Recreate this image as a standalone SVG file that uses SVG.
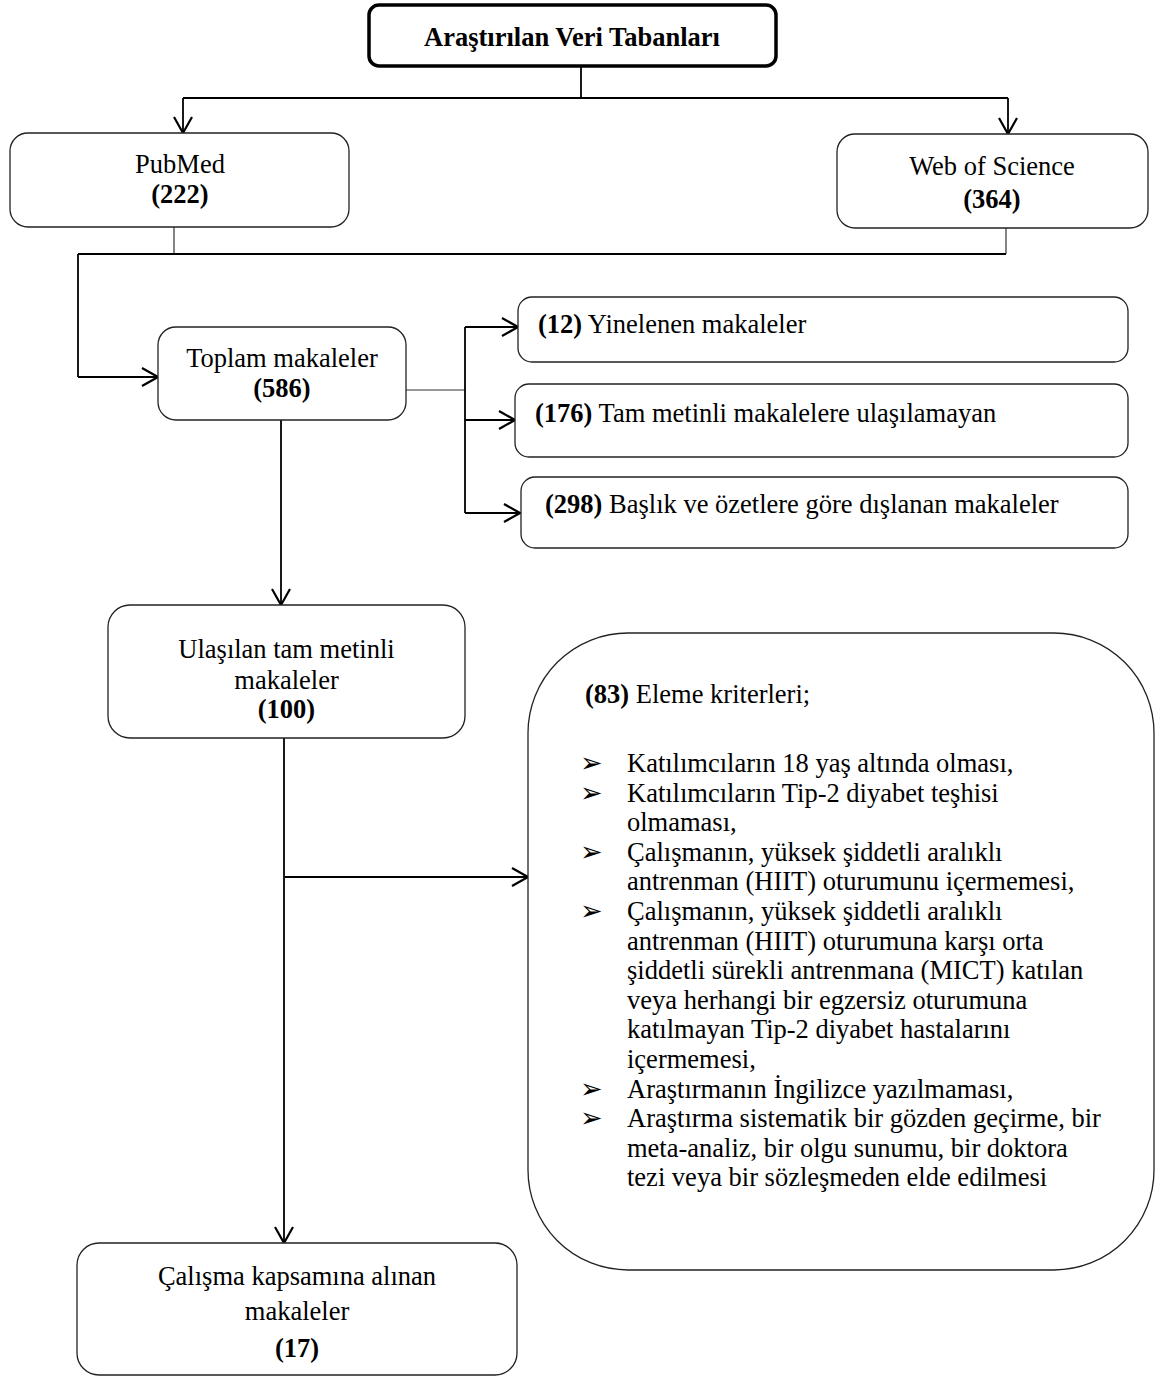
<svg xmlns="http://www.w3.org/2000/svg" width="1156" height="1378" viewBox="0 0 1156 1378">
<defs>
<style>
text{font-family:"Liberation Serif","Times New Roman",serif;font-size:26.5px;fill:#000}
.c{text-anchor:middle}
.b{font-weight:bold}
.box{fill:#fff;stroke:#222;stroke-width:1.3}
.title{fill:#fff;stroke:#000;stroke-width:3.5}
.ln{fill:none;stroke:#000;stroke-width:1.8}
.thin{fill:none;stroke:#333;stroke-width:1.2}
.ar{fill:none;stroke:#000;stroke-width:1.8;marker-end:url(#arr)}
.bul{font-family:"DejaVu Sans",sans-serif;font-size:27px}
</style>
<marker id="arr" markerUnits="userSpaceOnUse" viewBox="0 0 18 20" refX="17" refY="10" markerWidth="18" markerHeight="20" orient="auto">
<path d="M1,1 L17,10 L1,19" fill="none" stroke="#000" stroke-width="2.2"/>
</marker>
</defs>
<rect width="1156" height="1378" fill="#fff"/>

<g id="connectors">
<path class="ln" d="M581,66 V98"/>
<path class="ln" d="M183,98 H1008"/>
<path class="ar" d="M183,98 V133"/>
<path class="ar" d="M1008,98 V134"/>
<path class="thin" d="M174,227 V254"/>
<path class="thin" d="M1006,228 V254"/>
<path class="ln" d="M78,254 H1006"/>
<path class="ln" d="M78,254 V377"/>
<path class="ar" d="M78,377 H158"/>
<path class="thin" d="M406,390 H465"/>
<path class="ln" d="M465,327 V513"/>
<path class="ar" d="M465,327 H518"/>
<path class="ar" d="M465,420 H515"/>
<path class="ar" d="M465,513 H520"/>
<path class="ar" d="M281,420 V605"/>
<path class="ar" d="M284,738 V1243"/>
<path class="ar" d="M285,877 H528"/>
</g>

<g id="n-title">
<rect class="title" x="369" y="5" width="407" height="61" rx="10"/>
<text class="c b" x="572" y="46" font-size="26">Araştırılan Veri Tabanları</text>
</g>

<g id="n-pubmed">
<rect class="box" x="10" y="133" width="339" height="94" rx="18"/>
<text class="c" x="180" y="173">PubMed</text>
<text class="c b" x="180" y="203">(222)</text>
</g>

<g id="n-wos">
<rect class="box" x="837" y="134" width="311" height="94" rx="18"/>
<text class="c" x="992" y="175">Web of Science</text>
<text class="c b" x="992" y="208">(364)</text>
</g>

<g id="n-toplam">
<rect class="box" x="158" y="327" width="248" height="93" rx="18"/>
<text class="c" x="282" y="367">Toplam makaleler</text>
<text class="c b" x="282" y="397">(586)</text>
</g>

<g id="n-yinelenen">
<rect class="box" x="518" y="297" width="610" height="65" rx="14"/>
<text x="538" y="333"><tspan class="b">(12)</tspan> Yinelenen makaleler</text>
</g>

<g id="n-tammetin">
<rect class="box" x="515" y="384" width="613" height="73" rx="14"/>
<text x="535" y="422"><tspan class="b">(176)</tspan> Tam metinli makalelere ulaşılamayan</text>
</g>

<g id="n-baslik">
<rect class="box" x="521" y="477" width="607" height="71" rx="14"/>
<text x="545" y="513"><tspan class="b">(298)</tspan> Başlık ve özetlere göre dışlanan makaleler</text>
</g>

<g id="n-ulasilan">
<rect class="box" x="108" y="605" width="357" height="133" rx="22"/>
<text class="c" x="286.5" y="658">Ulaşılan tam metinli</text>
<text class="c" x="286.5" y="689">makaleler</text>
<text class="c b" x="286.5" y="718">(100)</text>
</g>

<g id="n-eleme">
<rect class="box" x="528" y="633" width="626" height="637" rx="100"/>
<text x="585" y="703"><tspan class="b">(83)</tspan> Eleme kriterleri;</text>
<text class="bul" x="580" y="772">➢</text>
<text x="627" y="772">Katılımcıların 18 yaş altında olması,</text>
<text class="bul" x="580" y="801.6">➢</text>
<text x="627" y="801.6">Katılımcıların Tip-2 diyabet teşhisi</text>
<text x="627" y="831.2">olmaması,</text>
<text class="bul" x="580" y="860.8">➢</text>
<text x="627" y="860.8">Çalışmanın, yüksek şiddetli aralıklı</text>
<text x="627" y="890.4">antrenman (HIIT) oturumunu içermemesi,</text>
<text class="bul" x="580" y="920">➢</text>
<text x="627" y="920">Çalışmanın, yüksek şiddetli aralıklı</text>
<text x="627" y="949.6">antrenman (HIIT) oturumuna karşı orta</text>
<text x="627" y="979.2">şiddetli sürekli antrenmana (MICT) katılan</text>
<text x="627" y="1008.8">veya herhangi bir egzersiz oturumuna</text>
<text x="627" y="1038.4">katılmayan Tip-2 diyabet hastalarını</text>
<text x="627" y="1068">içermemesi,</text>
<text class="bul" x="580" y="1097.6">➢</text>
<text x="627" y="1097.6">Araştırmanın İngilizce yazılmaması,</text>
<text class="bul" x="580" y="1127.2">➢</text>
<text x="627" y="1127.2">Araştırma sistematik bir gözden geçirme, bir</text>
<text x="627" y="1156.8">meta-analiz, bir olgu sunumu, bir doktora</text>
<text x="627" y="1186.4">tezi veya bir sözleşmeden elde edilmesi</text>
</g>

<g id="n-calisma">
<rect class="box" x="77" y="1243" width="440" height="132" rx="22"/>
<text class="c" x="297" y="1285">Çalışma kapsamına alınan</text>
<text class="c" x="297" y="1320">makaleler</text>
<text class="c b" x="297" y="1357">(17)</text>
</g>
</svg>
